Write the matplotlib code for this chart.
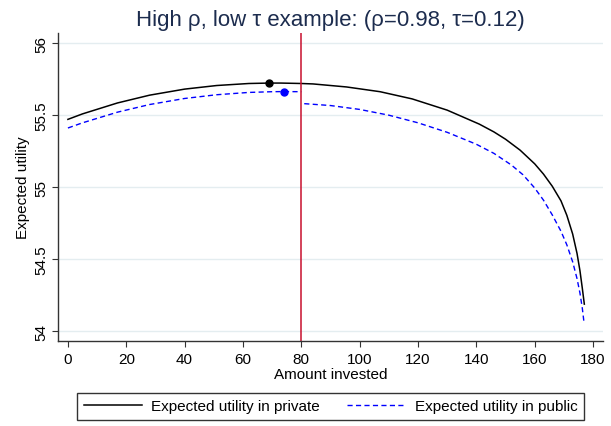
import matplotlib.pyplot as plt

plt.rcParams['font.family'] = ['Liberation Sans', 'DejaVu Sans']

# expected utility in private
priv_x = [0, 5, 17, 28, 40, 51, 62, 69, 73, 80, 84, 95.5, 107, 118, 130, 141,
          146, 150, 155, 160, 163, 166, 169, 171, 173, 174.5, 175.5, 176.3, 177]
priv_y = [55.472, 55.510, 55.586, 55.640, 55.682, 55.707, 55.721, 55.724, 55.724,
          55.721, 55.718, 55.697, 55.664, 55.614, 55.536, 55.439,
          55.385, 55.334, 55.258, 55.163, 55.092, 55.008, 54.906, 54.806, 54.676,
          54.541, 54.421, 54.301, 54.189]

# expected utility in public, before and after the cut-off
pub1_x = [0, 5, 17, 28, 40, 51, 62, 70, 74, 80]
pub1_y = [55.412, 55.448, 55.522, 55.575, 55.617, 55.643, 55.659, 55.664, 55.665, 55.664]
pub2_x = [81, 90, 100, 110, 120, 130, 140, 146, 152, 156, 160, 163, 166, 169,
          171, 173, 174.5, 175.5, 176.3, 176.9]
pub2_y = [55.581, 55.568, 55.541, 55.501, 55.448, 55.382, 55.299, 55.236, 55.155,
          55.087, 54.995, 54.911, 54.809, 54.695, 54.601, 54.483, 54.366, 54.266,
          54.162, 54.060]

# optimum markers
opt_priv = [68.9, 55.724]
opt_pub = [73.9, 55.662]
cutoff = 80

xticks = [0, 20, 40, 60, 80, 100, 120, 140, 160, 180]
yticks = [54, 54.5, 55, 55.5, 56]
ylabels = ['54', '54.5', '55', '55.5', '56']

fig = plt.figure(figsize=(6.11, 4.27), dpi=100)
ax = fig.add_axes([0.0954, 0.1984, 0.8915, 0.7231])

dash = (0, (3.7, 2.4))
ax.plot(priv_x, priv_y, color='black', lw=1.1, label='Expected utility in private')
ax.plot(pub1_x, pub1_y, color='blue', lw=1.0, linestyle=dash,
        label='Expected utility in public')
ax.plot(pub2_x, pub2_y, color='blue', lw=1.0, linestyle=dash)
ax.plot(*opt_priv, 'o', color='black', ms=5)
ax.plot(*opt_pub, 'o', color='blue', ms=5)
ax.axvline(cutoff, color='#c8102e', lw=1.1)

ax.set_xlim(-3.3, 183.4)
ax.set_ylim(53.931, 56.075)
ax.set_xticks(xticks)
ax.set_yticks(yticks)
ax.set_yticklabels(ylabels, rotation=90, va='center')
ax.yaxis.grid(True, color='#e4edf0', lw=1)
ax.set_axisbelow(True)

for s in ['top', 'right']:
    ax.spines[s].set_visible(False)
for s in ['left', 'bottom']:
    ax.spines[s].set_color('#333333')
    ax.spines[s].set_linewidth(1)
ax.tick_params(length=4.5, width=0.8, color='#333333', labelsize=11, pad=3)

ax.set_xlabel('Amount invested', fontsize=11, labelpad=1)
ax.set_ylabel('Expected utility', fontsize=11, labelpad=3)
ax.set_title('High ρ, low τ example: (ρ=0.98, τ=0.12)', fontsize=16,
             color='#1c2c4e', pad=5.5)

leg = fig.legend(loc='center', bbox_to_anchor=(330.6 / 611, 1 - 407.5 / 427),
                 ncol=2, fontsize=11, frameon=True, fancybox=False,
                 handlelength=3.8, handletextpad=0.63, columnspacing=1.75,
                 borderpad=0.45)
leg.get_frame().set_edgecolor('black')
leg.get_frame().set_linewidth(1)

fig.savefig('out.png', dpi=100)
